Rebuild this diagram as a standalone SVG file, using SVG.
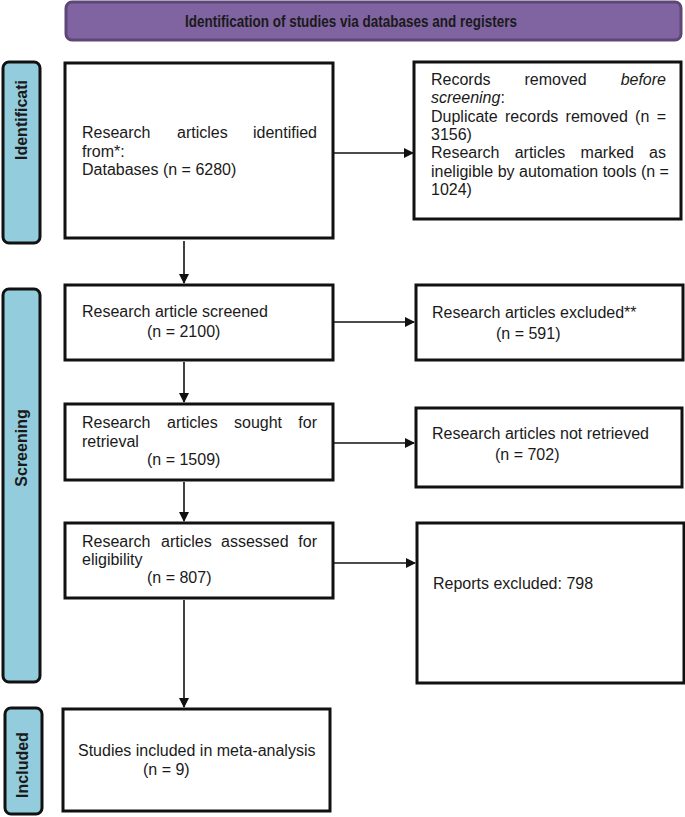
<svg xmlns="http://www.w3.org/2000/svg" width="685" height="817" viewBox="0 0 685 817">
<defs>
<style>
.t{font-family:"Liberation Sans",Arial,sans-serif;font-size:16px;fill:#1a1a1a}
.b{font-family:"Liberation Sans",Arial,sans-serif;font-weight:bold;fill:#1a1a1a}
.box{fill:#fff;stroke:#111;stroke-width:3}
.side{fill:#93cddd;stroke:#111;stroke-width:3}
.ln{stroke:#111;stroke-width:1.6;fill:none}
</style>
<marker id="ah" markerWidth="10" markerHeight="10" refX="9" refY="5" orient="auto" markerUnits="userSpaceOnUse">
<path d="M0,0 L10,5 L0,10 Z" fill="#111"/>
</marker>
</defs>
<rect width="685" height="817" fill="#fff"/>

<g id="title">
<rect x="66" y="2" width="615" height="38" rx="6" fill="#8064a2" stroke="#5c4776" stroke-width="3"/>
<text class="b" x="185" y="27" font-size="16.5" textLength="332" lengthAdjust="spacingAndGlyphs">Identification of studies via databases and registers</text>
</g>

<g id="side-identification">
<rect class="side" x="3" y="62" width="37" height="181" rx="6"/>
<text class="b" font-size="16" transform="translate(27,120) rotate(-90)" text-anchor="middle">Identificati</text>
</g>
<g id="side-screening">
<rect class="side" x="3" y="289" width="37" height="393" rx="6"/>
<text class="b" font-size="16" transform="translate(27,448) rotate(-90)" text-anchor="middle">Screening</text>
</g>
<g id="side-included">
<rect class="side" x="5" y="708" width="37" height="106" rx="6"/>
<text class="b" font-size="16" transform="translate(28,765) rotate(-90)" text-anchor="middle">Included</text>
</g>

<g id="identified">
<rect class="box" x="65" y="63" width="268" height="175"/>
<text class="t" y="138"><tspan x="82">Research</tspan><tspan x="177">articles</tspan><tspan x="317" text-anchor="end">identified</tspan></text>
<text class="t" x="82" y="157">from*:</text>
<text class="t" x="82" y="175">Databases (n = 6280)</text>
</g>

<g id="removed">
<rect class="box" x="414" y="62" width="267" height="157"/>
<text class="t" y="85"><tspan x="431">Records</tspan><tspan x="524.5">removed</tspan><tspan x="666" text-anchor="end" font-style="italic">before</tspan></text>
<text class="t" x="431" y="103"><tspan font-style="italic">screening</tspan>:</text>
<text class="t" y="122"><tspan x="431">Duplicate</tspan><tspan x="505">records</tspan><tspan x="565.6">removed</tspan><tspan x="635.1">(n</tspan><tspan x="666" text-anchor="end">=</tspan></text>
<text class="t" x="431" y="140">3156)</text>
<text class="t" y="158"><tspan x="431">Research</tspan><tspan x="514.7">articles</tspan><tspan x="580.6">marked</tspan><tspan x="666" text-anchor="end">as</tspan></text>
<text class="t" x="431" y="177">ineligible by automation tools (n =</text>
<text class="t" x="431" y="195">1024)</text>
</g>

<g id="screened">
<rect class="box" x="65" y="285" width="268" height="75"/>
<text class="t" x="82" y="317">Research article screened</text>
<text class="t" x="147" y="337">(n = 2100)</text>
</g>

<g id="excluded">
<rect class="box" x="416" y="285" width="267" height="75"/>
<text class="t" x="432" y="318">Research articles excluded**</text>
<text class="t" x="496" y="339">(n = 591)</text>
</g>

<g id="sought">
<rect class="box" x="65" y="404" width="268" height="76"/>
<text class="t" y="428"><tspan x="82">Research</tspan><tspan x="167">articles</tspan><tspan x="234">sought</tspan><tspan x="317" text-anchor="end">for</tspan></text>
<text class="t" x="82" y="447">retrieval</text>
<text class="t" x="147" y="465">(n = 1509)</text>
</g>

<g id="notretrieved">
<rect class="box" x="416" y="408" width="266" height="79"/>
<text class="t" x="432" y="439">Research articles not retrieved</text>
<text class="t" x="495" y="460">(n = 702)</text>
</g>

<g id="eligibility">
<rect class="box" x="65" y="523" width="268" height="75"/>
<text class="t" y="547"><tspan x="82">Research</tspan><tspan x="161">articles</tspan><tspan x="221">assessed</tspan><tspan x="317" text-anchor="end">for</tspan></text>
<text class="t" x="82" y="565">eligibility</text>
<text class="t" x="147" y="583">(n = 807)</text>
</g>

<g id="reports">
<rect class="box" x="417" y="523" width="267" height="160"/>
<text class="t" x="433" y="589">Reports excluded: 798</text>
</g>

<g id="included">
<rect class="box" x="63" y="709" width="267" height="102"/>
<text class="t" x="78" y="756">Studies included in meta-analysis</text>
<text class="t" x="143" y="775">(n = 9)</text>
</g>

<g id="connectors">
<line class="ln" x1="334" y1="153" x2="413" y2="153" marker-end="url(#ah)" stroke-width="2"/>
<line class="ln" x1="184" y1="241" x2="184" y2="283" marker-end="url(#ah)" stroke-width="2"/>
<line class="ln" x1="334" y1="322" x2="414" y2="322" marker-end="url(#ah)"/>
<line class="ln" x1="184" y1="362" x2="184" y2="402" marker-end="url(#ah)"/>
<line class="ln" x1="334" y1="443" x2="414" y2="443" marker-end="url(#ah)"/>
<line class="ln" x1="184" y1="482" x2="184" y2="521" marker-end="url(#ah)"/>
<line class="ln" x1="334" y1="563" x2="415" y2="563" marker-end="url(#ah)"/>
<line class="ln" x1="184" y1="600" x2="184" y2="707" marker-end="url(#ah)"/>
</g>
</svg>
